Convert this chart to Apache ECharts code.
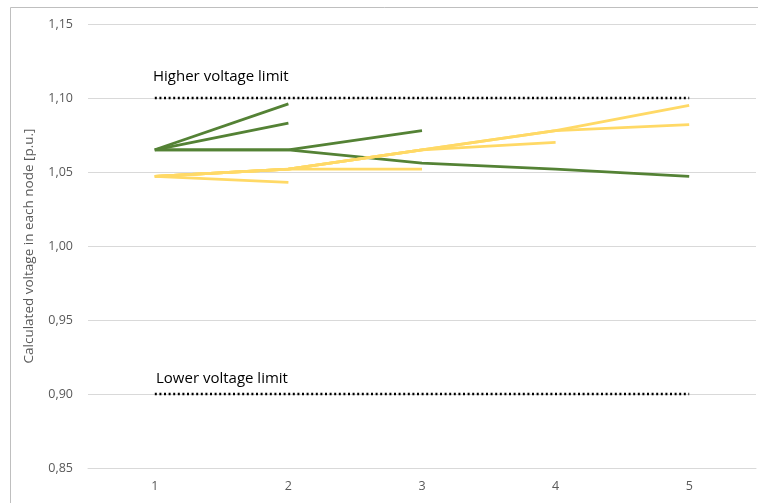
<!DOCTYPE html>
<html>
<head>
<meta charset="utf-8">
<script src="https://cdn.jsdelivr.net/npm/echarts@6/dist/echarts.min.js"></script>
<style>html,body{margin:0;padding:0;background:#fff}#c{width:758px;height:503px}</style>
</head>
<body>
<div id="c"></div>
<script>
const categories = ['1', '2', '3', '4', '5'];
const yTicks = { min: 0.85, max: 1.15, step: 0.05 };
const higherLimit = [1.10, 1.10, 1.10, 1.10, 1.10];
const lowerLimit = [0.90, 0.90, 0.90, 0.90, 0.90];
const green1 = [1.065, 1.096, null, null, null];
const green2 = [1.065, 1.083, null, null, null];
const green3 = [1.065, 1.065, 1.078, null, null];
const green4 = [1.065, 1.065, 1.056, 1.052, 1.047];
const yellow1 = [1.047, 1.043, null, null, null];
const yellow2 = [1.047, 1.052, 1.052, null, null];
const yellow3 = [1.047, 1.052, 1.065, 1.070, null];
const yellow4 = [1.047, 1.052, 1.065, 1.078, 1.082];
const yellow5 = [1.047, 1.052, 1.065, 1.078, 1.095];
const higherLabel = 'Higher voltage limit';
const lowerLabel = 'Lower voltage limit';
const yTitle = 'Calculated voltage in each node [p.u.]';

const FONT = 'Open Sans';
const chart = echarts.init(document.getElementById('c'), null, { renderer: 'canvas' });
function line(data, color, z) {
  return { type: 'line', data: data, symbol: 'none', z: z, connectNulls: false,
    lineStyle: { color: color, width: 2.8 }, silent: true, animation: false };
}
function limit(data) {
  return { type: 'line', data: data, symbol: 'none', z: 5,
    lineStyle: { color: '#000', width: 2.4, type: [2, 2.6] }, silent: true, animation: false };
}
chart.setOption({
  animation: false,
  grid: { left: 88, right: 2, top: 24, bottom: 35 },
  xAxis: {
    type: 'category', data: categories, boundaryGap: true,
    axisLine: { lineStyle: { color: '#d9d9d9', width: 1 } },
    axisTick: { show: false },
    axisLabel: { color: '#595959', fontFamily: FONT, fontSize: 12.5, margin: 12 }
  },
  yAxis: {
    type: 'value', min: yTicks.min, max: yTicks.max, interval: yTicks.step,
    name: yTitle, nameLocation: 'middle', nameGap: 52,
    nameTextStyle: { color: '#595959', fontFamily: FONT, fontSize: 13.5 },
    axisLine: { show: false }, axisTick: { show: false },
    splitLine: { lineStyle: { color: '#d9d9d9', width: 1 } },
    axisLabel: { color: '#595959', fontFamily: FONT, fontSize: 12.5, margin: 15,
      formatter: v => v.toFixed(2).replace('.', ',') }
  },
  graphic: [
    { type: 'rect', shape: { x: 10.5, y: 7.5, width: 760, height: 510, r: 0 },
      style: { fill: 'none', stroke: '#bfbfbf', lineWidth: 1 }, silent: true },
    { type: 'text', left: 153, top: 69, style: { text: higherLabel, fill: '#000', font: '15px "' + FONT + '"' } },
    { type: 'text', left: 156, top: 371, style: { text: lowerLabel, fill: '#000', font: '15px "' + FONT + '"' } }
  ],
  series: [
    limit(higherLimit), limit(lowerLimit),
    line(green1, '#548235', 3), line(green2, '#548235', 3), line(green3, '#548235', 3), line(green4, '#548235', 3),
    line(yellow1, '#FFD966', 4), line(yellow2, '#FFD966', 4), line(yellow3, '#FFD966', 4), line(yellow4, '#FFD966', 4), line(yellow5, '#FFD966', 4)
  ]
});
</script>
</body>
</html>
